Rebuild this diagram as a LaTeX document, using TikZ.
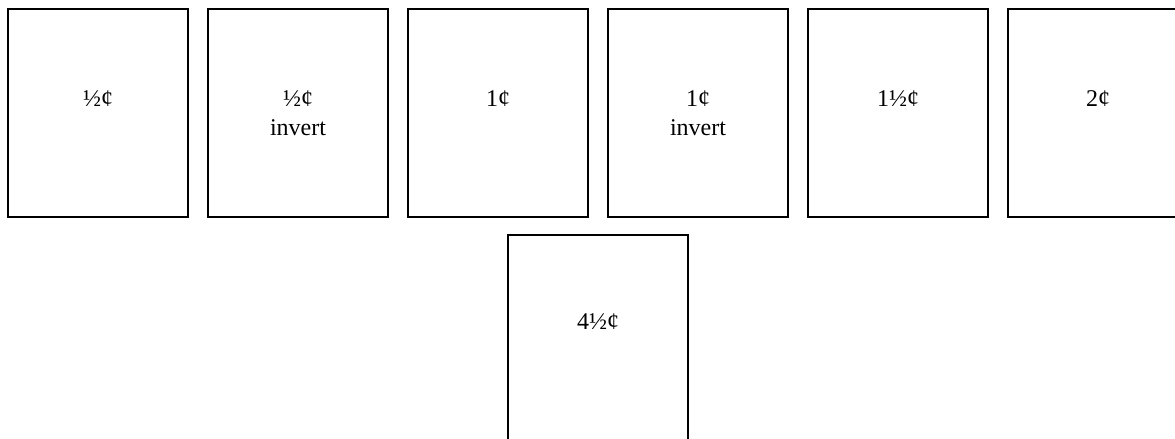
\documentclass[tikz,border=0pt]{standalone}
\usepackage{fontspec}
\setmainfont{Liberation Serif}
\usetikzlibrary{positioning, calc}

\begin{document}
\begin{tikzpicture}[
node distance=13.9pt,
box/.style={rectangle, draw=black, line width=1.1pt, minimum width=135pt, minimum height=156pt, inner sep=0pt},
lbl/.style={align=center, anchor=base, font=\fontsize{18}{21.75}\selectfont}
]
\useasboundingbox (0,0) rectangle (881.25pt,-329.25pt);
\clip (0,0) rectangle (881.25pt,-329.25pt);

\node[box] (half) at (73.5pt,-84.75pt) {};
\node[box, right=of half] (halfinv) {};
\node[box, right=of halfinv] (one) {};
\node[box, right=of one] (oneinv) {};
\node[box, right=of oneinv] (onehalf) {};
\node[box, right=of onehalf] (two) {};
\coordinate (mid) at ($(one.south)!0.5!(oneinv.south)$);
\node[box, below=12.4pt of mid] (fourhalf) {};

% base of a two-line label sits on its last line
\node[lbl] (halflbl) at ($(half.north)+(0,-73.5pt)$) {½¢};
\node[lbl] (halfinvlbl) at ($(halfinv.north)+(0,-95.25pt)$) {½¢\\invert};
\node[lbl] (onelbl) at ($(one.north)+(0,-73.5pt)$) {1¢};
\node[lbl] (oneinvlbl) at ($(oneinv.north)+(0,-95.25pt)$) {1¢\\invert};
\node[lbl] (onehalflbl) at ($(onehalf.north)+(0,-73.5pt)$) {1½¢};
\node[lbl] (twolbl) at ($(two.north)+(0,-73.5pt)$) {2¢};
\node[lbl] (fourhalflbl) at ($(fourhalf.north)+(0,-71.5pt)$) {4½¢};
\end{tikzpicture}
\end{document}
